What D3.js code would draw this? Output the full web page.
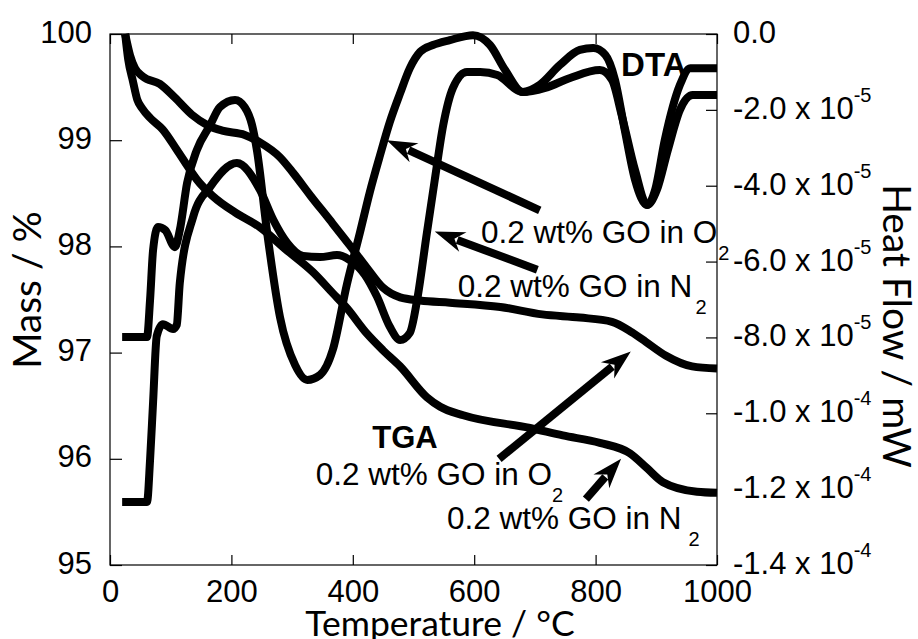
<!DOCTYPE html>
<html>
<head>
<meta charset="utf-8">
<script src="https://cdn.jsdelivr.net/npm/d3@7"></script>
<style>
  body { margin: 0; background: #fff; }
  svg text { font-family: "Liberation Sans", Arial, sans-serif; fill: #000; }
</style>
</head>
<body>
<svg id="chart" width="918" height="639"></svg>
<script>
// ************************************************************************************************** //
// Data (temperature in °C, mass in %, heat flow in units of 1e-5 mW)

var tgaO2Temp = [25, 33, 41, 54, 82, 107, 135, 161, 185, 222, 247, 280, 302, 330, 362, 395, 423, 450, 478, 511, 560, 643, 712, 774, 827, 860, 883, 916, 959, 1000];
var tgaO2Mass = [100.0, 99.80, 99.68, 99.60, 99.53, 99.40, 99.24, 99.14, 99.09, 99.05, 98.98, 98.84, 98.69, 98.48, 98.25, 98.01, 97.80, 97.61, 97.52, 97.49, 97.47, 97.43, 97.36, 97.33, 97.29, 97.19, 97.10, 96.97, 96.87, 96.85];

var tgaN2Temp = [25, 30, 38, 45, 53, 66, 87, 110, 132, 143, 170, 206, 247, 290, 334, 367, 390, 423, 450, 478, 522, 544, 582, 692, 746, 807, 857, 885, 911, 967, 1000];
var tgaN2Mass = [100.0, 99.76, 99.55, 99.38, 99.30, 99.21, 99.10, 98.91, 98.72, 98.63, 98.47, 98.32, 98.18, 97.97, 97.76, 97.56, 97.42, 97.18, 97.02, 96.87, 96.58, 96.49, 96.41, 96.29, 96.22, 96.15, 96.05, 95.91, 95.78, 95.69, 95.68];

var dtaO2Temp = [20, 61, 66, 71, 79, 91, 107, 115, 127, 143, 165, 181, 206, 222, 234, 242, 259, 280, 305, 325, 346, 367, 390, 412, 428, 445, 461, 478, 494, 511, 532, 560, 598, 626, 651, 680, 708, 741, 774, 796, 816, 832, 848, 865, 885, 898, 914, 939, 956, 1000];
var dtaO2Flow = [-7.99, -7.99, -7.01, -5.69, -5.09, -5.17, -5.62, -5.17, -3.93, -3.06, -2.40, -1.93, -1.74, -1.93, -2.40, -3.06, -5.25, -7.46, -8.73, -9.12, -8.99, -8.33, -6.62, -5.22, -4.17, -3.19, -2.32, -1.56, -0.90, -0.47, -0.29, -0.16, -0.03, -0.29, -0.95, -1.53, -1.34, -0.82, -0.42, -0.37, -0.55, -1.21, -2.53, -3.85, -4.51, -4.11, -2.79, -1.34, -0.90, -0.90];

var dtaN2Temp = [20, 61, 66, 71, 77, 87, 104, 110, 115, 137, 165, 209, 247, 269, 292, 318, 346, 374, 395, 420, 440, 461, 478, 494, 506, 522, 535, 549, 565, 588, 610, 638, 680, 717, 758, 807, 827, 843, 865, 885, 901, 919, 939, 960, 1000];
var dtaN2Flow = [-12.34, -12.34, -11.23, -9.70, -7.96, -7.65, -7.78, -7.67, -6.56, -4.82, -4.03, -3.40, -4.11, -4.90, -5.51, -5.85, -5.88, -5.83, -5.96, -6.35, -6.93, -7.72, -8.07, -7.88, -7.01, -5.25, -3.85, -2.40, -1.42, -1.00, -1.00, -1.08, -1.53, -1.42, -1.16, -0.95, -1.21, -2.14, -3.59, -4.51, -4.11, -3.06, -2.00, -1.61, -1.61];

var tempTicks = [0, 200, 400, 600, 800, 1000];
var massTicks = [95, 96, 97, 98, 99, 100];
var heatTicks = [0, -2, -4, -6, -8, -10, -12, -14];
var heatTickText = ['0.0', '-2.0 x 10', '-4.0 x 10', '-6.0 x 10', '-8.0 x 10', '-1.0 x 10', '-1.2 x 10', '-1.4 x 10'];
var heatTickExp = ['', '-5', '-5', '-5', '-5', '-4', '-4', '-4'];

// annotation labels, positioned in (temperature, mass) coordinates
var labelText = ['0.2 wt% GO in O', '0.2 wt% GO in N', '0.2 wt% GO in O', '0.2 wt% GO in N'];
var labelSub = ['2', '2', '2', '2'];
var labelSubGap = [1, 3, 0, 7];
var labelTemp = [611, 573, 339, 555];
var labelMass = [98.03, 97.52, 95.75, 95.34];

// arrows: [tail temp, tail mass, tip temp, tip mass]
var arrows = [
  [708, 98.34, 456, 99.00],
  [704, 97.78, 535, 98.14],
  [641, 96.00, 858, 97.01],
  [784, 95.62, 842, 96.00]
];

// ************************************************************************************************** //
// Setup

var width = 918, height = 639;
var plotLeft = 110, plotRight = 717, plotTop = 34, plotBottom = 565;

var x = d3.scaleLinear().domain([0, 1000]).range([plotLeft, plotRight]);
var yMass = d3.scaleLinear().domain([95, 100]).range([plotBottom, plotTop]);
var yHeat = d3.scaleLinear().domain([-14, 0]).range([plotBottom, plotTop]);

var svg = d3.select('#chart');

function draw(){
  // frame
  svg.append('rect')
    .attr('x', plotLeft).attr('y', plotTop)
    .attr('width', plotRight - plotLeft).attr('height', plotBottom - plotTop)
    .attr('fill', 'none').attr('stroke', '#000').attr('stroke-width', 1.2);

  // bottom axis
  var gx = svg.append('g').attr('transform', 'translate(0,' + plotBottom + ')')
    .call(d3.axisBottom(x).tickValues(tempTicks).tickSize(-10).tickSizeOuter(0).tickPadding(15).tickFormat(d3.format('d')));
  // top axis ticks
  var gxt = svg.append('g').attr('transform', 'translate(0,' + plotTop + ')')
    .call(d3.axisTop(x).tickValues(tempTicks).tickSize(-10).tickSizeOuter(0).tickFormat(''));
  // left axis
  var gy = svg.append('g').attr('transform', 'translate(' + plotLeft + ',0)')
    .call(d3.axisLeft(yMass).tickValues(massTicks).tickSize(-12).tickSizeOuter(0).tickPadding(18).tickFormat(d3.format('d')));
  // right axis
  var gr = svg.append('g').attr('transform', 'translate(' + plotRight + ',0)')
    .call(d3.axisRight(yHeat).tickValues(heatTicks).tickSize(-11).tickSizeOuter(0).tickFormat(''));

  [gx, gxt, gy, gr].forEach(function(g){
    g.select('.domain').remove();
    g.selectAll('line').attr('stroke', '#000').attr('stroke-width', 1.2);
    g.selectAll('text').attr('font-size', 31).attr('font-family', '"Liberation Sans", Arial, sans-serif').attr('fill', '#000');
  });
  gx.selectAll('text').attr('dy', '0.72em');
  gy.selectAll('text').attr('dy', '0.26em');

  // right tick labels with superscript exponent
  var rl = svg.append('g').selectAll('text').data(heatTicks).enter().append('text')
    .attr('x', plotRight + 16)
    .attr('y', function(d){ return yHeat(d) + 9; })
    .attr('font-size', 31);
  rl.append('tspan').text(function(d, i){ return heatTickText[i]; });
  rl.append('tspan').attr('font-size', 20).attr('dy', -17)
    .text(function(d, i){ return heatTickExp[i]; });

  // curves
  var massLine = d3.line().x(function(d){ return x(d[0]); }).y(function(d){ return yMass(d[1]); }).curve(d3.curveMonotoneX);
  var heatLine = d3.line().x(function(d){ return x(d[0]); }).y(function(d){ return yHeat(d[1]); }).curve(d3.curveMonotoneX);

  var series = [
    { line: massLine, data: d3.zip(tgaO2Temp, tgaO2Mass) },
    { line: massLine, data: d3.zip(tgaN2Temp, tgaN2Mass) },
    { line: heatLine, data: d3.zip(dtaO2Temp, dtaO2Flow) },
    { line: heatLine, data: d3.zip(dtaN2Temp, dtaN2Flow) }
  ];
  svg.append('g').selectAll('path').data(series).enter().append('path')
    .attr('d', function(s){ return s.line(s.data); })
    .attr('fill', 'none').attr('stroke', '#000').attr('stroke-width', 8)
    .attr('stroke-linejoin', 'round').attr('stroke-linecap', 'butt');

  // arrows
  var ga = svg.append('g');
  arrows.forEach(function(a){
    var x0 = x(a[0]), y0 = yMass(a[1]), x1 = x(a[2]), y1 = yMass(a[3]);
    var len = Math.hypot(x1 - x0, y1 - y0), ux = (x1 - x0) / len, uy = (y1 - y0) / len;
    var nx = -uy, ny = ux, L = 30, W = 10.5;
    ga.append('line')
      .attr('x1', x0).attr('y1', y0)
      .attr('x2', x1 - ux * (L - 6)).attr('y2', y1 - uy * (L - 6))
      .attr('stroke', '#000').attr('stroke-width', 8);
    var pts = [
      [x1, y1],
      [x1 - ux * L + nx * W, y1 - uy * L + ny * W],
      [x1 - ux * (L - 9), y1 - uy * (L - 9)],
      [x1 - ux * L - nx * W, y1 - uy * L - ny * W]
    ];
    ga.append('path').attr('d', 'M' + pts.join('L') + 'Z').attr('fill', '#000');
  });

  // annotation labels
  labelText.forEach(function(t, i){
    var tx = svg.append('text')
      .attr('x', x(labelTemp[i])).attr('y', yMass(labelMass[i]))
      .attr('font-size', 31.5);
    tx.append('tspan').text(t);
    tx.append('tspan').attr('font-size', 20).attr('dx', labelSubGap[i]).attr('dy', 17).text(labelSub[i]);
  });

  svg.append('text').attr('x', x(842)).attr('y', yMass(99.60))
    .attr('font-size', 33).attr('font-weight', 'bold').text('DTA');
  svg.append('text').attr('x', x(432)).attr('y', yMass(96.10))
    .attr('font-size', 31).attr('font-weight', 'bold').text('TGA');

  // axis titles
  svg.append('text')
    .attr('transform', 'translate(41,290) rotate(-90)')
    .attr('text-anchor', 'middle').style('font-family', 'Lato, sans-serif').attr('font-size', 39)
    .text('Mass / %');
  svg.append('text')
    .attr('x', 440).attr('y', 636)
    .attr('text-anchor', 'middle').style('font-family', 'Lato, sans-serif').attr('font-size', 35.5)
    .text('Temperature / °C');
  svg.append('text')
    .attr('transform', 'translate(883,326) rotate(90)')
    .attr('text-anchor', 'middle').style('font-family', 'Lato, sans-serif').attr('font-size', 39)
    .text('Heat Flow / mW');
}

draw();
</script>
</body>
</html>
